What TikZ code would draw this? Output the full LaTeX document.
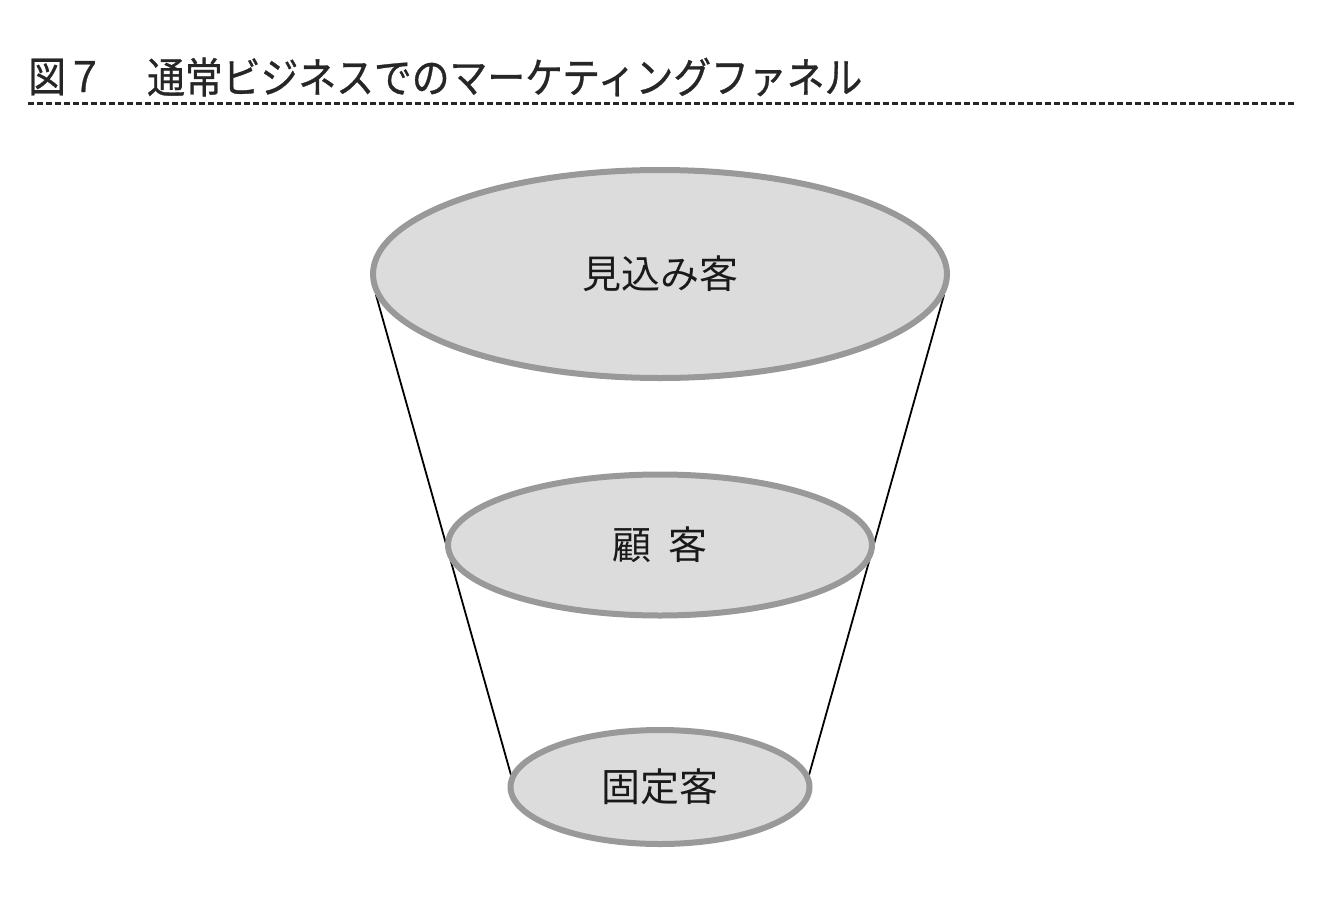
\documentclass[tikz,border=0pt]{standalone}
\usepackage{fontspec}
\setmainfont{Noto Sans CJK JP}
\newfontfamily\titlefont{Noto Sans CJK JP}[FakeBold=0.8]
\usetikzlibrary{shapes.geometric,backgrounds}
\definecolor{fillgray}{HTML}{DCDCDC}
\definecolor{edgegray}{HTML}{999999}
\tikzset{
  stage/.style={ellipse, draw=edgegray, fill=fillgray, line width=6pt, inner sep=0pt,
    font=\fontsize{39}{39}\selectfont, text=black!90},
  funnel/.style={line width=1.8pt, black},
  titletext/.style={anchor=west, inner sep=0pt, font=\titlefont\fontsize{42}{42}\selectfont, text=black!85},
}
\begin{document}
\begin{tikzpicture}[x=1pt,y=-1pt]
\useasboundingbox (0,0) rectangle (1322,905);
% title
\node[titletext, xscale=0.9] (fig) at (28,77) {図７};
\node[titletext, xscale=0.9] (title) at (147,77) {通常ビジネスでのマーケティングファネル};
\coordinate (dl) at (28,103);
\coordinate (dr) at (1294,103);
\draw[line width=3pt, dash pattern=on 6pt off 3pt, black!85] (dl) -- (dr);
% ellipses
\node[stage, minimum width=574pt, minimum height=208pt] (top) at (660,274) {見込み客};
\node[stage, minimum width=424pt, minimum height=141pt] (mid) at (660,545) {顧\hspace{17pt}客};
\node[stage, minimum width=299pt, minimum height=114pt] (bot) at (660,787) {固定客};
% funnel sides
\coordinate (tl) at (376,295);
\coordinate (tr) at (944,295);
\coordinate (bl) at (511,775);
\coordinate (br) at (809,775);
\begin{scope}[on background layer]
\draw[funnel] (tl) -- (bl);
\draw[funnel] (tr) -- (br);
\end{scope}
\end{tikzpicture}
\end{document}
